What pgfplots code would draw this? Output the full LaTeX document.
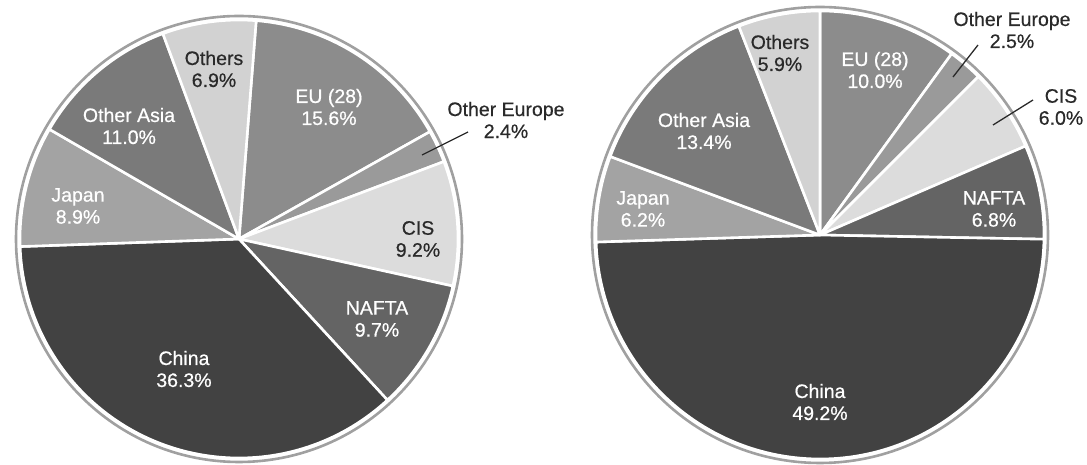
\documentclass[border=0pt]{standalone}
\usepackage{fontspec}
\setmainfont{Liberation Sans}[FakeBold=0.6]
\usepackage{pgfplots}
\pgfplotsset{compat=1.18}
\definecolor{cOthers}{HTML}{D2D2D2}
\definecolor{cEU}{HTML}{8C8C8C}
\definecolor{cOE}{HTML}{9A9A9A}
\definecolor{cCIS}{HTML}{DCDCDC}
\definecolor{cNAFTA}{HTML}{646464}
\definecolor{cChina}{HTML}{424242}
\definecolor{cJapan}{HTML}{A3A3A3}
\definecolor{cAsia}{HTML}{7A7A7A}
\definecolor{cRing}{HTML}{A0A0A0}
\definecolor{cText}{HTML}{2A2A2A}
% slice: start angle, percentage, colour, radius (pt)
\newcommand{\slice}[4]{%
  \addplot[fill=#3, draw=white, line width=2.6pt, line join=round] coordinates {(0,0)}
    -- ++(#1:#4pt) arc[start angle=#1, delta angle={-3.6*#2}, radius=#4pt] -- cycle;}
\tikzset{lab/.style={align=center, font=\fontsize{19.5}{22}\selectfont, inner sep=0pt}}
\begin{document}
\begin{tikzpicture}
\useasboundingbox (0,0) rectangle (1087pt,465pt);
% ---------------- left pie ----------------
\begin{axis}[at={(239pt,226pt)}, anchor=origin, x=1pt, y=1pt,
  xmin=-226, xmax=226, ymin=-226, ymax=226, hide axis, clip=false]
\draw[cRing, line width=2.6pt, fill=white] (axis cs:0,0) circle[radius=223pt];
\slice{85.5}{15.6}{cEU}{219}
\slice{29.34}{2.4}{cOE}{219}
\slice{20.70}{9.2}{cCIS}{219}
\slice{-12.42}{9.7}{cNAFTA}{219}
\slice{-47.34}{36.3}{cChina}{219}
\slice{-178.02}{8.9}{cJapan}{219}
\slice{-210.06}{11.0}{cAsia}{219}
\slice{-249.66}{6.9}{cOthers}{219}
\node[lab, text=cText] at (axis cs:-25,170) {Others\\6.9\%};
\node[lab, text=white] at (axis cs:90,132) {EU (28)\\15.6\%};
\node[lab, text=white] at (axis cs:-110,113) {Other Asia\\11.0\%};
\node[lab, text=white] at (axis cs:-161,33) {Japan\\8.9\%};
\node[lab, text=cText] at (axis cs:179,0) {CIS\\9.2\%};
\node[lab, text=white] at (axis cs:138,-80) {NAFTA\\9.7\%};
\node[lab, text=white] at (axis cs:-55,-130) {China\\36.3\%};
\node[lab, text=cText] at (axis cs:267,119) {Other Europe\\2.4\%};
\draw[cText, line width=1.3pt] (axis cs:183,84) -- (axis cs:229,107);
\end{axis}
% ---------------- right pie ----------------
\begin{axis}[at={(820pt,230pt)}, anchor=origin, x=1pt, y=1pt,
  xmin=-229, xmax=229, ymin=-229, ymax=229, hide axis, clip=false]
\draw[cRing, line width=2.6pt, fill=white] (axis cs:0,0) circle[radius=228pt];
\slice{90}{10.0}{cEU}{224}
\slice{54}{2.5}{cOE}{224}
\slice{45}{6.0}{cCIS}{224}
\slice{23.4}{6.8}{cNAFTA}{224}
\slice{-1.08}{49.2}{cChina}{224}
\slice{-178.2}{6.2}{cJapan}{224}
\slice{-200.52}{13.4}{cAsia}{224}
\slice{-248.76}{5.9}{cOthers}{224}
\node[lab, text=cText] at (axis cs:-40,182) {Others\\5.9\%};
\node[lab, text=white] at (axis cs:55,165) {EU (28)\\10.0\%};
\node[lab, text=white] at (axis cs:-116,104) {Other Asia\\13.4\%};
\node[lab, text=white] at (axis cs:-177,26) {Japan\\6.2\%};
\node[lab, text=white] at (axis cs:174,26) {NAFTA\\6.8\%};
\node[lab, text=white] at (axis cs:0,-167) {China\\49.2\%};
\node[lab, text=cText] at (axis cs:192,205) {Other Europe\\2.5\%};
\draw[cText, line width=1.3pt] (axis cs:133,158) -- (axis cs:158,190);
\node[lab, text=cText] at (axis cs:241,128) {CIS\\6.0\%};
\draw[cText, line width=1.3pt] (axis cs:173,110) -- (axis cs:213,135);
\end{axis}
\end{tikzpicture}
\end{document}
